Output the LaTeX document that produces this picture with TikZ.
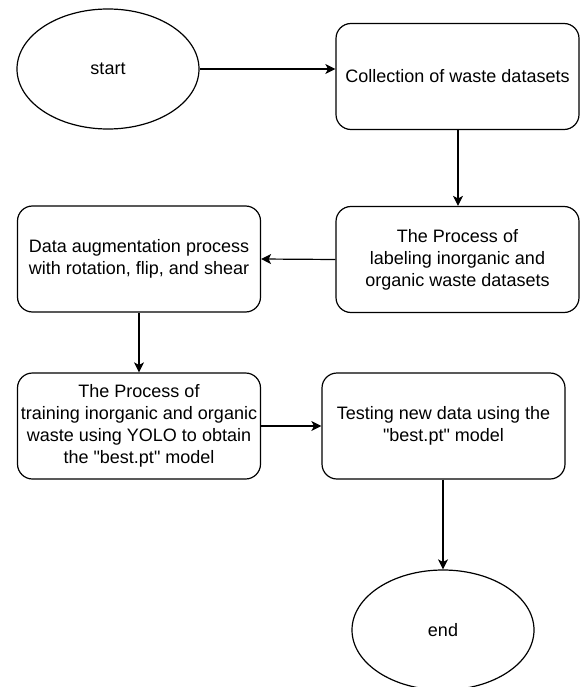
\documentclass[tikz,border=0pt]{standalone}
\usepackage{fontspec}
\setmainfont{Liberation Sans}
\usetikzlibrary{shapes.geometric,arrows.meta,positioning}

\begin{document}
\begin{tikzpicture}[x=1pt, y=-1pt, font=\fontsize{18}{22}\selectfont,
    terminal/.style={draw, ellipse, line width=1.2pt, minimum width=182pt, minimum height=120pt, inner sep=0pt},
    process/.style={draw, rounded corners=15pt, line width=1.2pt, minimum width=243pt, minimum height=106pt, align=center, inner sep=2pt},
    flow/.style={-{Stealth[length=10pt, width=10pt, inset=2.5pt]}, line width=1.2pt}]
    \useasboundingbox (0,0) rectangle (582,687);

    % Start and stop
    \node[terminal] (start) at (108,69) {start};
    \node[terminal] (stop) at (443,630) {end};

    % Steps
    \node[process] (collect) at (457.5,76.5) {Collection of waste datasets};
    \node[process] (label) at (457.5,259.5) {The Process of\\labeling inorganic and\\organic waste datasets};
    \node[process] (augment) at (139,259) {Data augmentation process\\with rotation, flip, and shear};
    \node[process] (train) at (139,426) {The Process of\\training inorganic and organic\\waste using YOLO to obtain\\the \textquotedbl best.pt\textquotedbl{} model};
    \node[process] (test) at (443.5,426) {Testing new data using the\\\textquotedbl best.pt\textquotedbl{} model};

    % Arrows
    \draw[flow] (start.east) -- (start.east -| collect.west);
    \draw[flow] (collect.south -| 458,0) -- (label.north -| 458,0);
    \draw[flow] (label.west) -- (augment.east);
    \draw[flow] (augment.south) -- (train.north);
    \draw[flow] (train.east) -- (test.west);
    \draw[flow] (test.south -| stop.north) -- (stop.north);
\end{tikzpicture}
\end{document}
